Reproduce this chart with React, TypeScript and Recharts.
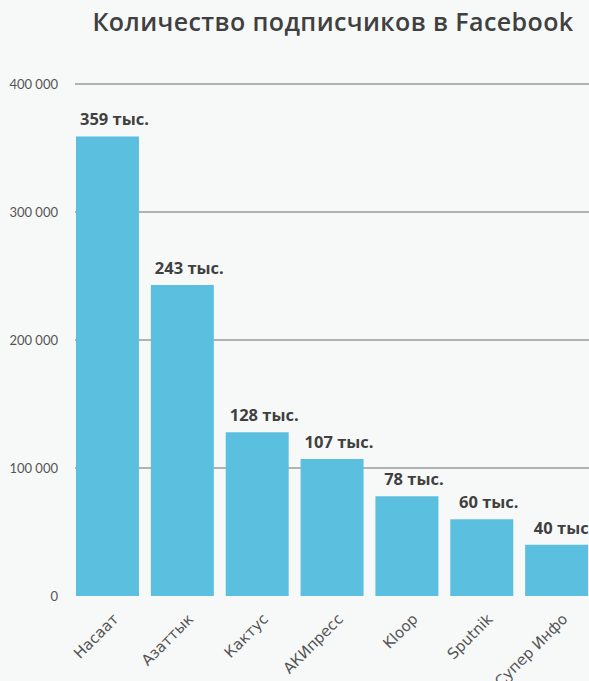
import React from "react";
import { BarChart, Bar, XAxis, YAxis, CartesianGrid, LabelList } from "recharts";

const outlets = ["Насаат", "Азаттык", "Кактус", "АКИпресс", "Kloop", "Sputnik", "Супер Инфо"];
const subscribers = [359000, 243000, 128000, 107000, 78000, 60000, 40000];
const yTicks = [0, 100000, 200000, 300000, 400000];

const data = outlets.map((name, i) => ({ name, value: subscribers[i] }));

const fmt = (v: number) => String(v).replace(/\B(?=(\d{3})+(?!\d))/g, " ");

const XTick = (props: any) => {
  const { x, y, payload } = props;
  return (
    <g transform={`translate(${x + 12},${y + 16})`}>
      <text
        textAnchor="end"
        transform="rotate(-45)"
        fontFamily="DejaVu Sans"
        fontSize={15}
        fill="#555"
      >
        {payload.value}
      </text>
    </g>
  );
};

const GridLine = (p: any) => {
  if (p.y1 > 590) return <g key={p.key} />;
  return <line key={p.key} x1={p.x1 + 5} x2={p.x2 + 10} y1={p.y1} y2={p.y2} stroke="#9a9a9a" strokeWidth={1.5} />;
};

const BarLabel = (p: any) => (
  <text
    x={p.x + p.width / 2 + 7}
    y={p.y - 11}
    textAnchor="middle"
    fontFamily="Open Sans"
    fontWeight={700}
    fontSize={16.5}
    fill="#404040"
  >
    {Math.round(p.value / 1000)} тыс.
  </text>
);

export default function App() {
  return (
    <div
      style={{
        position: "absolute",
        left: 0,
        top: 0,
        width: 589,
        height: 681,
        overflow: "hidden",
        background: "#f7f9f9",
      }}
    >
      <div
        style={{
          position: "absolute",
          left: 0,
          width: 666,
          top: 4,
          textAlign: "center",
          fontFamily: "Open Sans",
          fontWeight: 600,
          fontSize: 25,
          letterSpacing: 0.4,
          color: "#404040",
          whiteSpace: "nowrap",
        }}
      >
        Количество подписчиков в Facebook
      </div>
      <div style={{ position: "absolute", left: 0, top: 0 }}>
        <BarChart
          width={600}
          height={681}
          data={data}
          margin={{ top: 84, right: 6, bottom: 55, left: 0 }}
          barCategoryGap="8%"
        >
          <CartesianGrid vertical={false} horizontal={GridLine} />
          <XAxis
            dataKey="name"
            axisLine={false}
            tickLine={false}
            interval={0}
            tick={<XTick />}
          />
          <YAxis
            width={70}
            domain={[0, 400000]}
            ticks={yTicks}
            tickFormatter={fmt}
            axisLine={false}
            tickLine={false}
            tickMargin={6}
            tick={{ fontFamily: "Lato", fontSize: 13, fill: "#555" }}
          />
          <Bar dataKey="value" fill="#5bc0df" isAnimationActive={false}>
            <LabelList dataKey="value" content={BarLabel} />
          </Bar>
        </BarChart>
      </div>
    </div>
  );
}
